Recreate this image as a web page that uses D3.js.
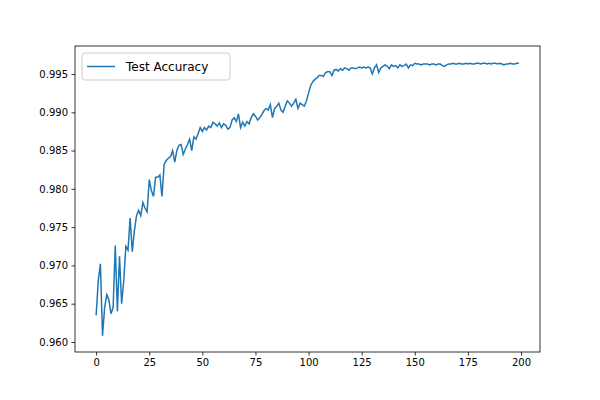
<!DOCTYPE html>
<html><head><meta charset="utf-8">
<script src="https://cdn.jsdelivr.net/npm/d3@7"></script>
<style>body{margin:0;background:#fff}text{font-family:"DejaVu Sans";}</style>
</head><body><div class="container"></div>
<script>
// test accuracy per epoch
var accuracy = [
0.9635,0.9680,0.9702,0.9608,0.9645,0.9662,0.9655,0.9637,0.9645,0.9726,
0.9640,0.9712,0.9650,0.9680,0.9725,0.9720,0.9762,0.9718,0.9745,0.9765,
0.9772,0.9765,0.9782,0.9775,0.9770,0.9812,0.9798,0.9790,0.9815,0.9815,
0.9818,0.9790,0.9832,0.9837,0.9840,0.9842,0.9850,0.9835,0.9850,0.9857,
0.9858,0.9845,0.9852,0.9858,0.9865,0.9850,0.9868,0.9865,0.9872,0.9880,
0.9875,0.9880,0.9877,0.9882,0.9880,0.9887,0.9885,0.9882,0.9886,0.9880,
0.9885,0.9883,0.9878,0.9880,0.9890,0.9893,0.9888,0.9898,0.9880,0.9887,
0.9882,0.9888,0.9885,0.9893,0.9898,0.9895,0.9890,0.9893,0.9897,0.9902,
0.9905,0.9903,0.9910,0.9893,0.9905,0.9908,0.9912,0.9903,0.9900,0.9908,
0.9915,0.9912,0.9908,0.9912,0.9917,0.9905,0.9912,0.9910,0.9908,0.9915,
0.9925,0.9935,0.9940,0.9943,0.9945,0.9948,0.9948,0.9947,0.9952,0.9953,
0.9953,0.9948,0.9955,0.9956,0.9954,0.9957,0.9955,0.9958,0.9957,0.9955,
0.9958,0.9958,0.9957,0.9958,0.9959,0.9958,0.9959,0.9958,0.9959,0.9958,
0.9950,0.9958,0.9962,0.9952,0.9958,0.9960,0.9962,0.9960,0.9957,0.9962,
0.9960,0.9961,0.9958,0.9962,0.9960,0.9961,0.9963,0.9958,0.9962,0.9961,
0.9964,0.9963,0.9963,0.9962,0.9963,0.9963,0.9963,0.9962,0.9963,0.9963,
0.9962,0.9963,0.9963,0.9961,0.9960,0.9962,0.9963,0.9963,0.9964,0.9963,
0.9963,0.9964,0.9963,0.9963,0.9964,0.9963,0.9964,0.9963,0.9963,0.9964,
0.9964,0.9963,0.9964,0.9964,0.9963,0.9964,0.9963,0.9964,0.9964,0.9963,
0.9964,0.9963,0.9962,0.9963,0.9963,0.9964,0.9963,0.9963,0.9964,0.9964
];
var xTicks = [0,25,50,75,100,125,150,175,200];
var yTicks = [0.960,0.965,0.970,0.975,0.980,0.985,0.990,0.995];
var seriesName = "Test Accuracy";

var L = 75, R = 540, T = 46, B = 352;
var svg = d3.select(".container").append('svg')
  .attr('width', 600).attr('height', 400);

var x = d3.scaleLinear().domain([-9.95, 208.95]).range([L, R]);
var y = d3.scaleLinear().domain([0.95869, 0.99866]).range([B, T]);

var line = d3.line().x(function(d, i){ return x(i); }).y(function(d){ return y(d); });
svg.append('path').datum(accuracy)
  .attr('d', line).attr('fill', 'none')
  .attr('stroke', '#1f77b4').attr('stroke-width', 1.5);

svg.append('g').attr('transform', 'translate(0,' + B + ')')
  .call(d3.axisBottom(x).tickValues(xTicks).tickSize(3.5).tickPadding(3.5));
svg.append('g').attr('transform', 'translate(' + L + ',0)')
  .call(d3.axisLeft(y).tickValues(yTicks).tickSize(3.5).tickPadding(3.5).tickFormat(d3.format('.3f')));
svg.selectAll('.domain').remove();
svg.selectAll('.tick text').attr('font-size', 10).attr('fill', '#000').attr('font-family', 'DejaVu Sans');
svg.selectAll('.tick line').attr('stroke', '#000').attr('stroke-width', 0.8);

svg.append('rect').attr('x', L).attr('y', T).attr('width', R - L).attr('height', B - T)
  .attr('fill', 'none').attr('stroke', '#000').attr('stroke-width', 0.8);

// legend
var lg = svg.append('g').attr('transform', 'translate(82,53)');
lg.append('rect').attr('width', 148).attr('height', 27).attr('rx', 3)
  .attr('fill', '#fff').attr('fill-opacity', 0.8).attr('stroke', '#ccc');
lg.append('line').attr('x1', 5).attr('x2', 33).attr('y1', 13.5).attr('y2', 13.5)
  .attr('stroke', '#1f77b4').attr('stroke-width', 1.5);
lg.append('text').attr('x', 44).attr('y', 18).attr('font-size', 12).text(seriesName);
</script></body></html>
